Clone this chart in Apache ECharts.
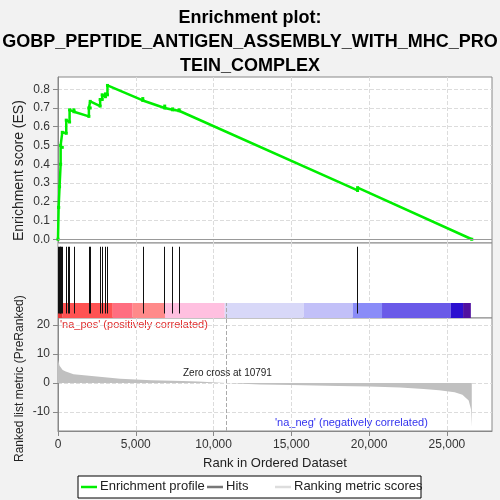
<!DOCTYPE html>
<html><head><meta charset="utf-8">
<script src="https://cdn.jsdelivr.net/npm/echarts@6/dist/echarts.min.js"></script>
<style>html,body{margin:0;background:#f2f2f2}#c{width:500px;height:500px}</style>
</head><body><div id="c"></div>
<script>
// enrichment profile (rank, ES)
var esRank = [0, 40, 40, 100, 170, 170, 275, 275, 530, 530, 745, 745, 1025, 1025, 1985, 1985, 2070, 2070, 2710, 2710, 2840, 2840, 3050, 3050, 3180, 3180, 5450, 5450, 6860, 6860, 7370, 7370, 7780, 7780, 19260, 19260, 26600];
var esVal = [0, 0.17, 0.17, 0.28, 0.40, 0.50, 0.49, 0.57, 0.565, 0.635, 0.625, 0.69, 0.68, 0.69, 0.655, 0.70, 0.70, 0.735, 0.71, 0.745, 0.745, 0.77, 0.76, 0.775, 0.77, 0.82, 0.74, 0.75, 0.70, 0.71, 0.69, 0.695, 0.685, 0.69, 0.26, 0.275, 0];
var hits = [20, 60, 120, 170, 230, 275, 530, 640, 745, 1025, 1985, 2070, 2710, 2840, 3050, 3180, 5450, 6860, 7370, 7780, 19260];
// ranked metric
var metricRank = [0, 100, 300, 500, 1000, 2000, 3000, 4000, 6000, 8000, 9000, 10791, 13000, 15000, 18000, 20000, 22000, 23500, 24500, 25500, 26000, 26400, 26550, 26600];
var metricVal = [8, 6, 4.5, 4, 3, 2.5, 2, 1.5, 1, 0.7, 0.5, 0, -0.5, -0.7, -1, -1.2, -1.5, -2, -2.5, -3.2, -4, -6, -9, -15];
var esTicks = [0, 0.1, 0.2, 0.3, 0.4, 0.5, 0.6, 0.7, 0.8];
var metricTicks = [-10, 0, 10, 20];
// colour bar segments
var barEdges = [0, 300, 3520, 4800, 6880, 10720, 15790, 18950, 20830, 25250, 26040, 26540];
var barColors = ['#e83838', '#ff5252', '#ff6e80', '#ff8a8a', '#ffc0e0', '#d8d8f8', '#c2c0f8', '#8a8cf8', '#6a5ae8', '#2c10d0', '#5010a0'];

var xMax = 27900, zeroCross = 10791;
var chart = echarts.init(document.getElementById('c'));
var gridL = {type: 'dashed', color: '#dcdcdc'};
function xAx(i, show) {
  return {gridIndex: i, type: 'value', min: 0, max: xMax, interval: 5000,
    axisLine: {show: show, onZero: false, lineStyle: {color: '#888'}}, axisTick: {show: show, lineStyle: {color: '#888'}},
    axisLabel: {show: show, color: '#333', fontSize: 12, showMaxLabel: false, formatter: function (v) { return v.toLocaleString('en-US'); }},
    splitLine: {show: true, showMaxLine: false, lineStyle: gridL},
    name: show ? 'Rank in Ordered Dataset' : '', nameLocation: 'middle', nameGap: 26, nameTextStyle: {fontSize: 13, color: '#222'}};
}
var markData = [];
for (var i = 0; i < barColors.length; i++) {
  markData.push([{xAxis: barEdges[i], yAxis: 0, itemStyle: {color: barColors[i]}}, {xAxis: barEdges[i + 1], yAxis: 0.2}]);
}
chart.setOption({
  animation: false,
  title: {text: 'Enrichment plot:\nGOBP_PEPTIDE_ANTIGEN_ASSEMBLY_WITH_MHC_PRO\nTEIN_COMPLEX', left: 'center', top: 1,
    textStyle: {fontSize: 18, fontWeight: 'bold', color: '#000', lineHeight: 24, fontFamily: 'Liberation Sans'}},
  grid: [
    {left: 58, right: 8, top: 77, height: 166, backgroundColor: '#fff', show: true, borderColor: '#888'},
    {left: 58, right: 8, top: 243, height: 75, backgroundColor: '#fff', show: true, borderColor: '#888'},
    {left: 58, right: 8, top: 318, height: 113, backgroundColor: '#fff', show: true, borderColor: '#888'}
  ],
  xAxis: [xAx(0, false), xAx(1, false), xAx(2, true)],
  yAxis: [
    {gridIndex: 0, min: -0.02, max: 0.865, axisLine: {show: true, lineStyle: {color: '#888'}},
      axisTick: {show: true, customValues: esTicks},
      axisLabel: {color: '#333', fontSize: 12, customValues: esTicks, formatter: function (v) { return v.toFixed(1); }},
      splitLine: {lineStyle: gridL}},
    {gridIndex: 1, min: 0, max: 1, axisLabel: {show: false}, axisTick: {show: false}, splitLine: {show: false}, axisLine: {show: false}},
    {gridIndex: 2, min: -16.5, max: 22.4, axisLine: {show: true, lineStyle: {color: '#888'}},
      axisTick: {show: true, customValues: metricTicks},
      axisLabel: {color: '#333', fontSize: 12, customValues: metricTicks}, splitLine: {lineStyle: gridL}}
  ],
  series: [
    {type: 'line', xAxisIndex: 0, yAxisIndex: 0, data: esRank.map(function (r, i) { return [r, esVal[i]]; }),
      symbol: 'rect', symbolSize: 3, showSymbol: true, lineStyle: {color: '#00ee00', width: 2.5}, itemStyle: {color: '#00ee00'},
      markLine: {silent: true, symbol: 'none', label: {show: false}, lineStyle: {color: '#999', type: 'solid', width: 1}, data: [{yAxis: 0}]}},
    {type: 'line', xAxisIndex: 1, yAxisIndex: 1, data: [], markArea: {silent: true, data: markData},
      markLine: {silent: true, symbol: 'none', label: {show: false}, lineStyle: {color: '#111', type: 'solid', width: 1},
        data: hits.map(function (h) { return [{coord: [h, 0.06]}, {coord: [h, 0.95]}]; })
          .concat([[{coord: [zeroCross, 0], lineStyle: {color: '#aaa', type: 'dashed'}}, {coord: [zeroCross, 0.2]}]])}},
    {type: 'line', xAxisIndex: 2, yAxisIndex: 2, data: metricRank.map(function (r, i) { return [r, metricVal[i]]; }),
      showSymbol: false, lineStyle: {width: 0}, areaStyle: {color: '#c0c0c0', opacity: 1, origin: 0},
      markLine: {silent: true, symbol: 'none', label: {show: false}, lineStyle: {color: '#aaa', type: 'dashed', width: 1}, data: [{xAxis: zeroCross}]}}
  ],
  graphic: [
    {type: 'text', x: 12, y: 241, rotation: Math.PI / 2, style: {text: 'Enrichment score (ES)', fontSize: 14, fill: '#222'}},
    {type: 'text', x: 14, y: 462, rotation: Math.PI / 2, style: {text: 'Ranked list metric (PreRanked)', fontSize: 12, fill: '#222'}},
    {type: 'text', x: 60, y: 319, style: {text: "'na_pos' (positively correlated)", fontSize: 11, fill: '#e03030'}},
    {type: 'text', x: 183, y: 368, style: {text: 'Zero cross at 10791', fontSize: 10, fill: '#222'}},
    {type: 'text', x: 275, y: 417, style: {text: "'na_neg' (negatively correlated)", fontSize: 11, fill: '#3333ee'}},
    {type: 'rect', shape: {x: 78, y: 476, width: 343, height: 22}, style: {fill: '#fff', stroke: '#000', lineWidth: 1}},
    {type: 'line', shape: {x1: 81, y1: 487, x2: 97, y2: 487}, style: {stroke: '#00ee00', lineWidth: 2.5}},
    {type: 'text', x: 100, y: 480, style: {text: 'Enrichment profile', fontSize: 13, fill: '#222'}},
    {type: 'line', shape: {x1: 207, y1: 487, x2: 223, y2: 487}, style: {stroke: '#777', lineWidth: 2.5}},
    {type: 'text', x: 226, y: 480, style: {text: 'Hits', fontSize: 13, fill: '#222'}},
    {type: 'line', shape: {x1: 275, y1: 487, x2: 291, y2: 487}, style: {stroke: '#ddd', lineWidth: 2.5}},
    {type: 'text', x: 294, y: 480, style: {text: 'Ranking metric scores', fontSize: 13, fill: '#222'}}
  ]
});
</script></body></html>
